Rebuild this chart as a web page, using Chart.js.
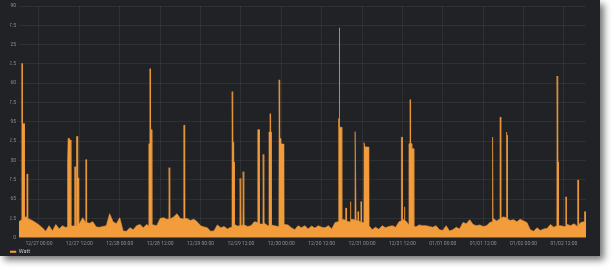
<!DOCTYPE html>
<html>
<head>
<meta charset="utf-8">
<title>Watt</title>
<script src="https://cdn.jsdelivr.net/npm/chart.js@4/dist/chart.umd.min.js"></script>
<style>
    body { margin: 0; background: #ffffff; }
    .panel {
        position: absolute; left: 0; top: 0;
        width: 600px; height: 256px;
        background: #202226;
        box-shadow: 4px 4px 7px rgba(0, 0, 0, 0.55);
        overflow: hidden;
    }
    canvas { display: block; }
</style>
</head>
<body>
<div class="panel"><canvas id="wattChart" width="600" height="256"></canvas></div>
<script>
// 1. Data (x = hours since 12/27 00:00)

// 1.1 x axis ticks, every 12 hours
const tickHours = [0, 12, 24, 36, 48, 60, 72, 84, 96, 108, 120, 132, 144, 156];
const tickLabels = ['12/27 00:00', '12/27 12:00', '12/28 00:00', '12/28 12:00', '12/29 00:00', '12/29 12:00',
    '12/30 00:00', '12/30 12:00', '12/31 00:00', '12/31 12:00', '01/01 00:00', '01/01 12:00',
    '01/02 00:00', '01/02 12:00'];

// 1.2 hourly base load, from hour -6 up to hour 163
const baseStart = -6;
const baseWatt = [
    400, 450, 520, 470, 430, 380,
    320, 250, 160, 300, 170, 330, 220, 300, 250, 280, 290, 300,
    350, 500, 380, 360, 400, 270, 260, 280, 300, 600, 400, 350,
    500, 170, 160, 250, 200, 300, 330, 250, 330, 300, 320, 300,
    480, 500, 460, 470, 520, 600, 480, 470, 480, 430, 460, 400,
    300, 270, 250, 160, 170, 320, 250, 280, 220, 260, 330, 290,
    300, 320, 280, 300, 400, 380, 340, 360, 300, 330, 300, 280,
    350, 330, 320, 250, 200, 300, 250, 300, 220, 290, 240, 300,
    260, 250, 300, 220, 380, 450, 470, 440, 400, 460, 430, 420,
    380, 400, 350, 200, 260, 210, 300, 250, 280, 300, 260, 400,
    450, 420, 320, 300, 270, 320, 300, 300, 280, 260, 300, 200,
    180, 300, 170, 200, 260, 220, 380, 350, 450, 330, 300, 320,
    280, 300, 380, 480, 420, 480, 520, 470, 430, 450, 400, 460,
    420, 380, 200, 160, 250, 180, 220, 230, 330, 260, 300, 300,
    280, 330, 300, 350, 280, 380, 400, 500
];

// 1.3 short load peaks, each one a list of [hour, watt]
const spikes = [
    [[-5.15, 450], [-5.1, 4350], [-4.95, 4350], [-4.92, 2850], [-4.35, 2850], [-4.3, 500]],
    [[-3.65, 520], [-3.6, 1590], [-3.4, 1590], [-3.35, 480]],
    [[8.35, 280], [8.4, 1860], [8.6, 1860], [8.65, 2480], [8.95, 2480], [9.0, 2440], [9.45, 2440], [9.5, 300]],
    [[10.55, 300], [10.6, 1770], [10.85, 1770], [10.9, 300], [11.1, 300], [11.15, 2530], [11.45, 2530], [11.5, 1490], [11.75, 1490], [11.8, 350]],
    [[13.85, 380], [13.9, 1950], [14.1, 1950], [14.15, 380]],
    [[32.6, 300], [32.65, 2350], [32.9, 2350], [32.95, 4220], [33.1, 4220], [33.15, 2700], [33.5, 2700], [33.55, 330]],
    [[38.6, 470], [38.65, 1750], [38.85, 1750], [38.9, 470]],
    [[43.0, 470], [43.05, 2810], [43.35, 2810], [43.4, 480]],
    [[57.35, 260], [57.4, 3650], [57.55, 3650], [57.6, 2390], [57.8, 2390], [57.85, 1890], [58.05, 1890], [58.1, 330]],
    [[59.7, 300], [59.75, 1480], [59.95, 1480], [60.0, 300]],
    [[60.6, 320], [60.65, 1650], [60.85, 1650], [60.9, 320]],
    [[65.0, 380], [65.05, 2700], [65.45, 2700], [65.5, 350]],
    [[66.55, 340], [66.6, 2080], [66.8, 2080], [66.85, 350]],
    [[68.3, 300], [68.35, 2640], [68.65, 2640], [68.7, 3100], [68.8, 3100], [68.85, 2640], [69.0, 2640], [69.05, 320]],
    [[71.3, 280], [71.35, 3945], [71.45, 3945], [71.5, 3675], [71.55, 3675], [71.6, 2480], [71.9, 2480], [71.95, 2340], [72.8, 2340], [72.85, 340]],
    [[88.9, 400], [88.95, 2980], [89.1, 2980], [89.15, 2760], [89.2, 2760], [89.22, 5245], [89.35, 5245], [89.37, 2760], [89.95, 2760], [90.0, 460]],
    [[91.1, 440], [91.15, 740], [91.35, 740], [91.4, 420]],
    [[92.45, 400], [92.5, 900], [92.65, 900], [92.7, 440]],
    [[93.9, 440], [93.95, 2650], [94.2, 2650], [94.25, 430]],
    [[94.7, 430], [94.75, 650], [94.9, 650], [94.95, 420]],
    [[95.6, 400], [95.65, 900], [95.8, 900], [95.85, 380]],
    [[96.55, 380], [96.6, 2375], [96.85, 2375], [96.9, 2265], [98.05, 2265], [98.1, 300]],
    [[107.65, 420], [107.7, 2510], [107.95, 2510], [108.0, 450]],
    [[108.5, 450], [108.55, 770], [108.7, 770], [108.75, 430]],
    [[109.9, 330], [109.95, 2350], [110.25, 2350], [110.3, 3450], [110.4, 3450], [110.45, 2350], [110.75, 2350], [110.8, 2225], [111.35, 2225], [111.4, 300]],
    [[134.65, 400], [134.7, 2515], [134.9, 2515], [134.95, 470]],
    [[136.95, 470], [137.0, 3010], [137.2, 3010], [137.25, 490]],
    [[138.8, 500], [138.85, 2640], [139.0, 2640], [139.05, 2560], [139.15, 2560], [139.2, 470]],
    [[153.9, 300], [153.95, 4040], [154.1, 4040], [154.12, 2350], [154.2, 2350], [154.22, 1890], [154.35, 1890], [154.4, 300]],
    [[156.5, 280], [156.55, 1020], [156.7, 1020], [156.75, 300]],
    [[160.05, 290], [160.1, 1440], [160.3, 1440], [160.35, 320]],
    [[162.1, 400], [162.15, 650], [162.35, 650], [162.4, 420]]
];

// 2. Merge base load and peaks into one sorted point list
function buildPoints() {
    const points = [];

    // 2.1 base points that are not covered by a peak
    baseWatt.forEach((w, i) => {
        const h = baseStart + i;
        const covered = spikes.some(s => h > s[0][0] && h < s[s.length - 1][0]);
        if (!covered) points.push({ x: h, y: w });
    });

    // 2.2 peak outlines
    spikes.forEach(s => s.forEach(([h, w]) => points.push({ x: h, y: w })));

    return points.sort((a, b) => a.x - b.x);
}

// 3. Render chart
const ORANGE = '#f29c3c';
const GRID = 'rgba(255, 255, 255, 0.065)';
const TICK_FONT = { family: 'Roboto', size: 5 };

const ctx = document.getElementById('wattChart').getContext('2d');
new Chart(ctx, {
    type: 'line',
    data: {
        datasets: [{
            label: 'Watt',
            data: buildPoints(),
            borderColor: ORANGE,
            backgroundColor: ORANGE,
            borderWidth: 0.6,
            fill: 'origin',
            pointRadius: 0,
            tension: 0
        }]
    },
    options: {
        responsive: false,
        animation: false,
        layout: { padding: { left: 10, right: 14, top: 5, bottom: 0 } },
        plugins: {
            tooltip: { enabled: false },
            legend: {
                position: 'bottom',
                align: 'start',
                maxHeight: 7,
                labels: {
                    boxWidth: 6,
                    boxHeight: 1.5,
                    padding: 0,
                    color: '#c4c4c4',
                    font: { family: 'Roboto', size: 5.5 }
                }
            }
        },
        scales: {
            x: {
                type: 'linear',
                min: -5.94,
                max: 162.56,
                afterBuildTicks: scale => {
                    scale.ticks = tickHours.map(v => ({ value: v }));
                },
                afterFit: scale => { scale.height = 11.3; },
                ticks: {
                    callback: (value, index) => tickLabels[index],
                    autoSkip: false,
                    maxRotation: 0,
                    padding: 3,
                    color: '#8e8e8e',
                    font: TICK_FONT
                },
                grid: { color: GRID, drawTicks: false },
                border: { display: false }
            },
            y: {
                min: 0,
                max: 5790,
                afterFit: scale => { scale.width = 9; },
                ticks: {
                    stepSize: 500,
                    includeBounds: false,
                    callback: value => String(value),
                    padding: 3,
                    color: '#8e8e8e',
                    font: TICK_FONT
                },
                grid: { color: GRID, drawTicks: false },
                border: { display: false }
            }
        }
    }
});
</script>
</body>
</html>
